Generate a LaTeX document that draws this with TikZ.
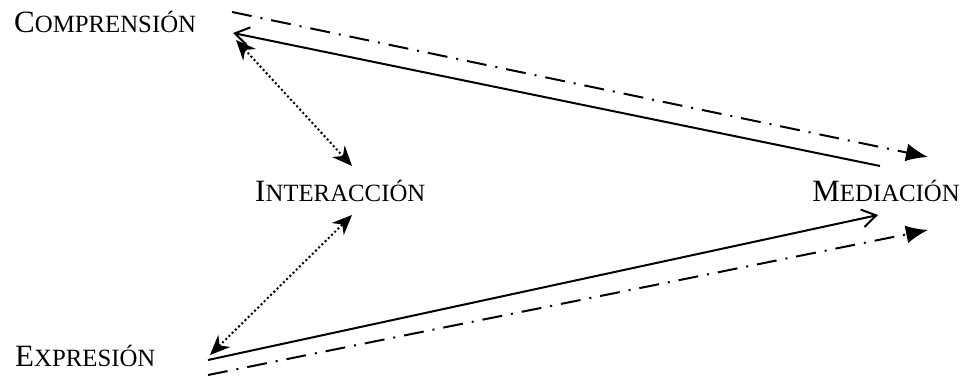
\documentclass[tikz,border=0pt]{standalone}
\usepackage{fontspec}
\setmainfont{Liberation Serif}
\usepackage{tikz}
\usetikzlibrary{arrows.meta}
\usetikzlibrary{calc}

\newcommand{\capword}[2]{{\fontsize{31}{36}\selectfont #1}{\fontsize{24.8}{30}\selectfont #2}}

\begin{document}
\begin{tikzpicture}[x=1pt,y=1pt]
    \tikzstyle{skill}=[
      inner sep=0pt,
      anchor=base west,
    ]
    \tikzstyle{pedge} = [line width=2pt,-{Straight Barb[length=14pt,width=18pt,line width=2pt]},draw=black]
    \tikzstyle{medge} = [line width=2pt,-{Latex[length=22pt,width=18pt]},draw=black,
      dash pattern=on 20pt off 9pt on 2pt off 9pt]
    \tikzstyle{iedge} = [line width=2pt,{Stealth[length=20pt,width=17pt]}-{Stealth[length=20pt,width=17pt]},
      draw=black,dash pattern=on 2pt off 2.5pt]

    \useasboundingbox (0,0) rectangle (967,377);

    \node[skill] (comprension) at (14,344) {\capword{C}{OMPRENSIÓN}};
    \node[skill] (interaccion) at (255,175) {\capword{I}{NTERACCIÓN}};
    \node[skill,anchor=base east] (mediacion) at (960,175) {\capword{M}{EDIACIÓN}};
    \node[skill] (expresion) at (15,10) {\capword{E}{XPRESIÓN}};

    \draw[medge] ([xshift=218pt,yshift=21pt]comprension.base west)
              -- ([xshift=-32pt,yshift=45pt]mediacion.base east);
    \draw[pedge] ([xshift=-80pt,yshift=36pt]mediacion.base east)
              -- ([xshift=219pt,yshift=0pt]comprension.base west);
    \draw[iedge] ([xshift=222pt,yshift=-7pt]comprension.base west)
              -- ([xshift=97pt,yshift=36pt]interaccion.base west);

    \draw[iedge] ([xshift=195pt,yshift=12pt]expresion.base west)
              -- ([xshift=97pt,yshift=-13pt]interaccion.base west);
    \draw[pedge] ([xshift=193pt,yshift=7pt]expresion.base west)
              -- ([xshift=-82pt,yshift=-13pt]mediacion.base east);
    \draw[medge] ([xshift=193pt,yshift=-8pt]expresion.base west)
              -- ([xshift=-32pt,yshift=-28pt]mediacion.base east);
  \end{tikzpicture}
\end{document}
